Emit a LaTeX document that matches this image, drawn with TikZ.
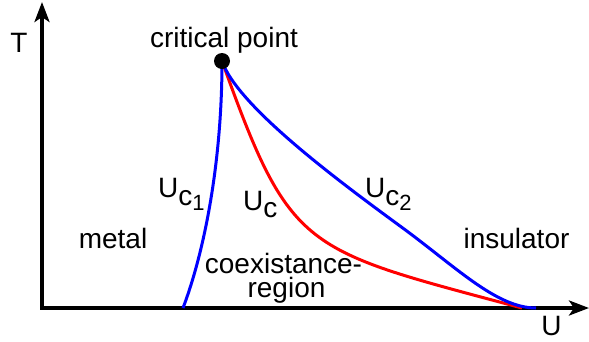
\documentclass[tikz,border=0pt]{standalone}
\usepackage{fontspec}
\setmainfont{Liberation Sans}
\usetikzlibrary{arrows.meta}
\newcommand{\Usb}[2]{U\raisebox{-8pt}{c\raisebox{-5pt}{\fontsize{22}{22}\selectfont #2}}}
\newcommand{\Uc}{U\raisebox{-7pt}{c}}
\tikzset{
  lbl/.style={inner sep=0pt, anchor=base, font=\fontsize{28}{32}\selectfont},
  ulbl/.style={inner sep=0pt, anchor=base west, font=\fontsize{28}{32}\selectfont},
  axis/.style={line width=3.5pt, -{Stealth[length=20pt,width=15pt,inset=5pt]}},
  curveb/.style={line width=3pt, blue},
  curver/.style={line width=3pt, red},
}
\begin{document}
\begin{tikzpicture}[x=1pt,y=-1pt]
\useasboundingbox (0,0) rectangle (589,341);
\coordinate (o) at (42,308);
\coordinate (ytip) at (42,2);
\coordinate (xtip) at (589,308);
\coordinate (xstart) at (40.25,308);
\coordinate (c0) at (222,61);
\coordinate (e1) at (183,308);
\coordinate (e2) at (522,308);
\coordinate (m3) at (400,226);
\coordinate (e3) at (536,308);
\draw[axis] (o) -- (ytip);
\draw[axis] (xstart) -- (xtip);
% curves
\draw[curveb] (c0) .. controls (222,160) and (205,250) .. (e1);
\draw[curver] (c0) .. controls (291,253) and (302,249) .. (e2);
\draw[curveb] (c0) .. controls (237,106) and (340,182) .. (m3)
              .. controls (455,266) and (496,308) .. (e3);
\node[circle, fill=black, minimum size=16pt, inner sep=0pt] (cp) at (c0) {};
% labels
\node[lbl] (tl) at (19,52) {T};
\node[lbl] (cpl) at (224,47) {critical point};
\node[ulbl] (uc1) at (158,197) {\Usb{c}{1}};
\node[ulbl] (uc) at (243,210) {\Uc};
\node[ulbl] (uc2) at (365,197) {\Usb{c}{2}};
\node[lbl] (metal) at (113,248) {metal};
\node[lbl] (ins) at (516.5,248) {insulator};
\node[lbl] (co1) at (283.5,273) {coexistance-};
\node[lbl] (co2) at (286.5,297) {region};
\node[lbl] (ul) at (551.5,335.5) {U};
\end{tikzpicture}
\end{document}
